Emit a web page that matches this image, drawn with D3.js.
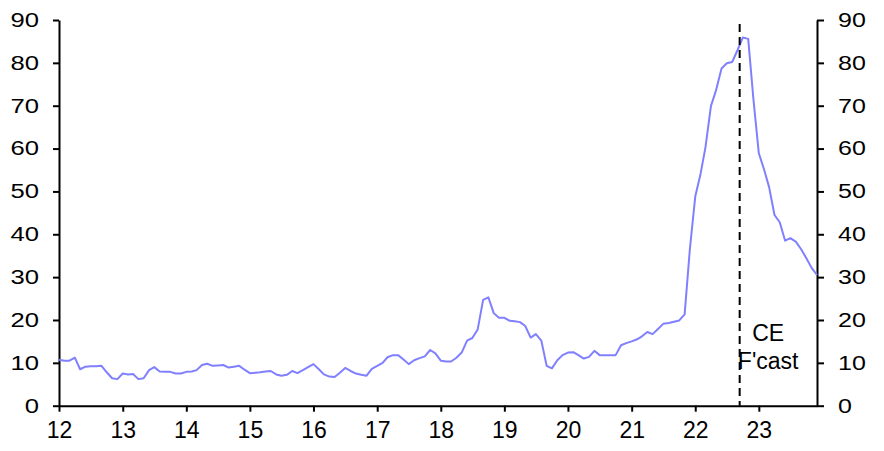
<!DOCTYPE html>
<html>
<head>
<meta charset="utf-8">
<script src="https://cdn.jsdelivr.net/npm/d3@7"></script>
<style>
  html, body { margin: 0; padding: 0; background: #fff; }
  svg { display: block; font-family: "Liberation Sans", Arial, sans-serif; }
</style>
</head>
<body>
<svg id="chart" width="884" height="451"></svg>
<script>
// ---- Data ----
const startYear = 2012;           // first monthly observation: Jan 2012
const values = [
  10.7,10.5,10.5,11.2,8.5,9.1,9.2,9.2,9.3,7.8,6.4,6.2,
  7.5,7.3,7.4,6.2,6.4,8.3,9.0,8.0,7.9,7.9,7.5,7.5,
  7.9,8.0,8.3,9.5,9.8,9.3,9.4,9.5,8.9,9.1,9.3,8.4,
  7.6,7.7,7.8,8.0,8.1,7.3,7.0,7.2,8.1,7.6,8.3,9.0,
  9.7,8.5,7.3,6.8,6.7,7.7,8.8,8.1,7.5,7.2,7.0,8.6,
  9.3,10.0,11.3,11.8,11.8,10.8,9.7,10.6,11.1,11.5,13.0,12.2,
  10.5,10.3,10.3,11.2,12.4,15.2,15.8,17.8,24.7,25.3,21.6,20.5,
  20.5,19.8,19.7,19.5,18.6,15.9,16.7,15.2,9.3,8.7,10.6,11.8,
  12.4,12.5,11.8,11.0,11.4,12.8,11.8,11.8,11.8,11.8,14.1,14.6,
  15.0,15.5,16.2,17.2,16.7,17.9,19.1,19.3,19.6,19.9,21.3,36.5,
  48.8,54.2,60.4,69.9,73.7,78.7,79.9,80.2,83.0,85.9,85.6,71.5,
  58.9,55.0,51.0,44.5,42.8,38.5,39.1,38.3,36.5,34.4,32.1,30.5
];
const xTickYears = [2012,2013,2014,2015,2016,2017,2018,2019,2020,2021,2022,2023];
const yTicks = [0,10,20,30,40,50,60,70,80,90];
const forecastDate = new Date(2022, 8, 13);
const forecastLabel = ["CE", "F'cast"];

// ---- Build ----
(function () {
const dates = values.map((v, i) => new Date(startYear, i, 1));
const data = values.map((v, i) => ({ date: dates[i], value: v }));

const svg = d3.select("#chart");
const mLeft = 59, mRight = 817, mTop = 20, mBottom = 405.7;

const x = d3.scaleTime()
  .domain([dates[0], dates[dates.length - 1]])
  .range([mLeft, mRight]);
const y = d3.scaleLinear().domain([0, 90]).range([mBottom, mTop]);

function stretch(sel, f) {
  sel.each(function () {
    const w = this.getComputedTextLength();
    this.setAttribute("textLength", (w * f).toFixed(2));
    this.setAttribute("lengthAdjust", "spacingAndGlyphs");
  });
}

function styleAxis(g) {
  g.selectAll(".domain").attr("stroke", "#000").attr("stroke-width", 2);
  g.selectAll(".tick line").attr("stroke", "#000").attr("stroke-width", 2);
  g.selectAll(".tick text").attr("fill", "#000");
}

// Left axis
const gl = svg.append("g").attr("transform", `translate(${mLeft},0)`)
  .call(d3.axisLeft(y).tickValues(yTicks).tickSize(6).tickPadding(14).tickSizeOuter(0));
styleAxis(gl);
gl.selectAll(".tick text").attr("font-size", 20).attr("font-family", "Liberation Sans, Arial, sans-serif");
stretch(gl.selectAll(".tick text"), 1.28);

// Right axis
const gr = svg.append("g").attr("transform", `translate(${mRight},0)`)
  .call(d3.axisRight(y).tickValues(yTicks).tickSize(7).tickPadding(14).tickSizeOuter(0));
styleAxis(gr);
gr.selectAll(".tick text").attr("font-size", 20).attr("font-family", "Liberation Sans, Arial, sans-serif");
stretch(gr.selectAll(".tick text"), 1.25);

// Bottom axis
const gb = svg.append("g").attr("transform", `translate(0,${mBottom})`)
  .call(d3.axisBottom(x)
    .tickValues(xTickYears.map(yr => new Date(yr, 0, 1)))
    .tickFormat(d3.timeFormat("%y"))
    .tickSize(6).tickPadding(10).tickSizeOuter(0));
styleAxis(gb);
gb.selectAll(".tick text").attr("font-size", 23).attr("font-family", "Liberation Sans, Arial, sans-serif")
  .attr("dy", "0.71em");

// Line
svg.append("path")
  .datum(data)
  .attr("fill", "none")
  .attr("stroke", "#8080ff")
  .attr("stroke-width", 2)
  .attr("stroke-linejoin", "round")
  .attr("d", d3.line().x(d => x(d.date)).y(d => y(d.value)));

// Forecast marker
svg.append("line")
  .attr("x1", x(forecastDate)).attr("x2", x(forecastDate))
  .attr("y1", 24).attr("y2", mBottom)
  .attr("stroke", "#000").attr("stroke-width", 2)
  .attr("stroke-dasharray", "8,5");

const lbl = svg.append("text")
  .attr("x", x(forecastDate) + 28.5)
  .attr("y", 341)
  .attr("text-anchor", "middle")
  .attr("font-size", 23)
  .attr("fill", "#000");
lbl.selectAll("tspan").data(forecastLabel).join("tspan")
  .attr("x", x(forecastDate) + 28.5)
  .attr("dy", (d, i) => i === 0 ? 0 : 28)
  .text(d => d);
})();
</script>
</body>
</html>
